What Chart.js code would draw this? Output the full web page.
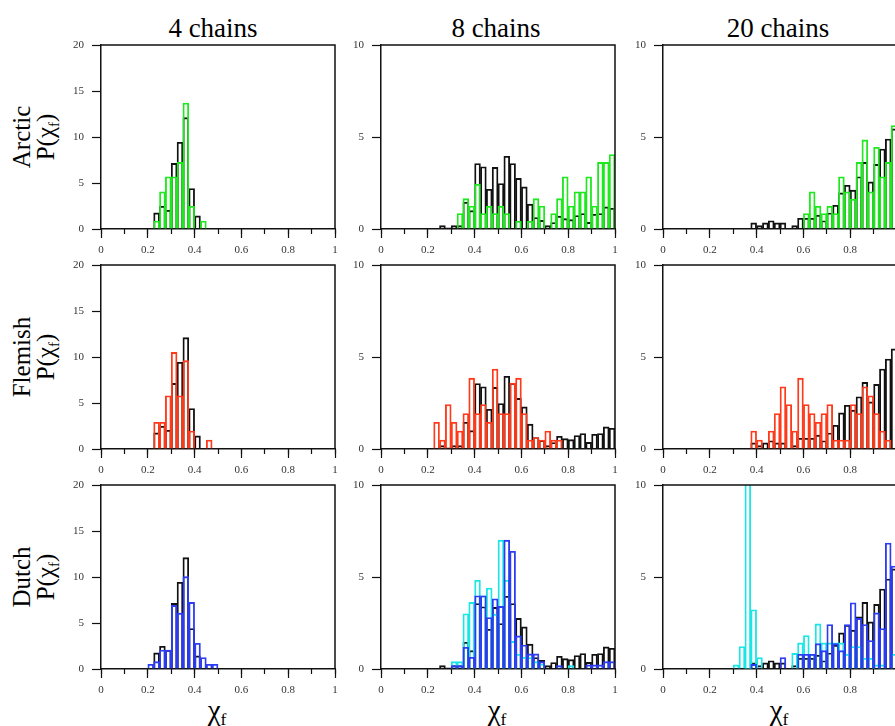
<!DOCTYPE html>
<html><head><meta charset="utf-8">
<script src="https://cdn.jsdelivr.net/npm/chart.js@4.4.0/dist/chart.umd.min.js"></script>
<style>
html,body{margin:0;padding:0;background:#fff;width:895px;height:726px;overflow:hidden;position:relative;font-family:"Liberation Serif","Times New Roman",serif;color:#000}
canvas{position:absolute}
.t{position:absolute;white-space:nowrap;transform:translate(-50%,-50%)}
.col{font-size:27px}
.row{font-size:25px;line-height:24px;text-align:center;transform:translate(-50%,-50%) rotate(-90deg)}
.xl{font-size:29px}
sub{font-size:0.6em;vertical-align:-0.3em;line-height:0}
</style></head><body>
<div class="t col" style="left:213px;top:28px">4 chains</div>
<div class="t col" style="left:496px;top:28px">8 chains</div>
<div class="t col" style="left:778px;top:28px">20 chains</div>
<div class="t row" style="left:34px;top:137px">Arctic<br>P(χ<sub>f</sub>)</div>
<div class="t row" style="left:34px;top:357px">Flemish<br>P(χ<sub>f</sub>)</div>
<div class="t row" style="left:34px;top:577px">Dutch<br>P(χ<sub>f</sub>)</div>
<div class="t xl" style="left:217px;top:710px">χ<sub>f</sub></div>
<div class="t xl" style="left:497px;top:710px">χ<sub>f</sub></div>
<div class="t xl" style="left:779px;top:710px">χ<sub>f</sub></div>
<script>
// ---- categories: 40 histogram bins of width 0.025 on [0,1]
const BIN_WIDTH = 0.025;
const binStarts = Array.from({length: 40}, (_, i) => i * BIN_WIDTH);
const xTickLabels = ['0', '0.2', '0.4', '0.6', '0.8', '1'];
const yTickLabels20 = ['0', '5', '10', '15', '20'];
const yTickLabels10 = ['0', '5', '10'];

// ---- reference (black) histograms, one per column
const ref4 = [0,0,0,0,0,0,0,0,0,1.75, 2.47,2.04,7.13,9.42,12.1,4.4,1.42,0,0,0, 0,0,0,0,0,0,0,0,0,0, 0,0,0,0,0,0,0,0,0,0];
const ref8 = [0,0,0,0,0,0,0,0,0,0, 0.18,0.07,0.18,0.18,1.45,1.0,3.56,3.38,2.16,3.35, 2.47,3.95,3.56,2.75,2.29,1.35,0.62,0.47,0.18,0.35, 0.69,0.56,0.51,0.73,0.84,0.36,0.8,0.84,1.2,1.13];
const ref20 = [0,0,0,0,0,0,0,0,0,0, 0,0,0,0,0,0.33,0.18,0.33,0.45,0.33, 0.33,0,0.18,0.58,0.58,0.58,0.75,0.45,0.87,1.29, 1.96,2.38,2.11,2.84,3.62,2.56,3.51,4.35,4.89,5.44];

// ---- Arctic (green)
const arctic4 = [0,0,0,0,0,0,0,0,0,0.87, 4.04,5.67,5.67,7.24,13.7,2.47,0,0.87,0,0, 0,0,0,0,0,0,0,0,0,0, 0,0,0,0,0,0,0,0,0,0];
const arctic8 = [0,0,0,0,0,0,0,0,0,0, 0,0,0,0.84,1.65,1.25,2.44,0.84,1.24,0.84, 1.24,0.84,0,0.42,0,0.42,1.65,1.25,0,0.84, 1.65,2.84,1.25,2.02,2.02,2.84,1.25,3.62,3.62,4.05];
const arctic20 = [0,0,0,0,0,0,0,0,0,0, 0,0,0,0,0,0,0,0,0,0, 0,0,0,0,0.84,2.02,1.24,0.84,1.24,0.84, 2.84,2.02,1.62,3.62,4.84,2.02,4.44,2.84,3.62,5.62];

// ---- Flemish (red)
const flemish4 = [0,0,0,0,0,0,0,0,0,2.9, 2.9,5.78,10.5,5.78,9.6,1.96,0,0,0.98,0, 0,0,0,0,0,0,0,0,0,0, 0,0,0,0,0,0,0,0,0,0];
const flemish8 = [0,0,0,0,0,0,0,0,0,1.45, 0.49,2.42,1.45,0.98,1.93,3.85,1.93,2.42,1.45,4.35, 1.93,1.93,3.58,3.85,1.93,0.49,0.62,0.49,0.98,0.49, 0.49,0,0,0,0,0,0,0,0,0];
const flemish20 = [0,0,0,0,0,0,0,0,0,0, 0,0,0,0,0,0.98,0.49,0,0.98,1.93, 3.38,2.42,0.98,3.85,2.42,1.93,1.45,1.93,2.42,0.49, 0.49,0.49,2.42,1.93,3.38,2.89,1.93,0.98,0.49,0];

// ---- Dutch (blue, and cyan)
const dutch4 = [0,0,0,0,0,0,0,0,0.51,0.8, 2.07,2.07,6.91,6.07,10.04,7.24,2.8,1.24,0.51,0.51, 0,0,0,0,0,0,0,0,0,0, 0,0,0,0,0,0,0,0,0,0];
const dutch8Cyan = [0,0,0,0,0,0,0,0,0,0, 0,0,0.4,0.4,3.0,3.62,4.82,3.98,4.4,2.98, 7.0,4.82,1.5,0.8,0.64,0.62,0.4,0.27,0,0, 0,0,0.18,0,0,0,0,0,0,0];
const dutch8Blue = [0,0,0,0,0,0,0,0,0,0, 0,0,0.18,0.18,1.18,0.64,3.98,3.98,2.8,3.82, 3.4,7.0,6.4,1.8,1.3,0.82,0.82,0.4,0,0, 0.18,0,0,0,0,0.22,0.22,0.22,0.4,0.4];
const dutch20Cyan = [0,0,0,0,0,0,0,0,0,0, 0,0,0.22,1.22,16,3.22,0.62,0,0,0, 0,0,0.85,1.42,1.82,0.8,2.45,1.42,1.42,1.42, 1.42,0.8,1.22,1.22,0.58,0.58,0.22,0.22,0,0.8];
const dutch20Blue = [0,0,0,0,0,0,0,0,0,0, 0,0,0,0,0,0.25,0,0,0,0, 0.62,0,0,0.8,0.8,0.8,1.38,1.0,2.42,1.38, 1.0,2.42,3.6,2.75,2.42,1.55,3.05,2.2,6.85,5.6];

// ---- styling
const BLACK = '#111111', GREEN = '#1ee81e', RED = '#ff3a1a', BLUE = '#2b3cf2', CYAN = '#1ae6e6';
const COLS = [101, 381, 663];
const ROWS = [45, 265, 485];
const PLOT_W = 234, PLOT_H = 184;
const PAD_L = 60, PAD_T = 20, PAD_R = 12, PAD_B = 30;
const TICK_FONT = {family: '"Liberation Serif","Times New Roman",serif', size: 11};

const panels = [
  {r: 0, c: 0, ymax: 20, series: [[ref4, BLACK], [arctic4, GREEN]]},
  {r: 0, c: 1, ymax: 10, series: [[ref8, BLACK], [arctic8, GREEN]]},
  {r: 0, c: 2, ymax: 10, series: [[ref20, BLACK], [arctic20, GREEN]]},
  {r: 1, c: 0, ymax: 20, series: [[ref4, BLACK], [flemish4, RED]]},
  {r: 1, c: 1, ymax: 10, series: [[ref8, BLACK], [flemish8, RED]]},
  {r: 1, c: 2, ymax: 10, series: [[ref20, BLACK], [flemish20, RED]]},
  {r: 2, c: 0, ymax: 20, series: [[ref4, BLACK], [dutch4, BLUE]]},
  {r: 2, c: 1, ymax: 10, series: [[ref8, BLACK], [dutch8Cyan, CYAN], [dutch8Blue, BLUE]]},
  {r: 2, c: 2, ymax: 10, series: [[ref20, BLACK], [dutch20Cyan, CYAN], [dutch20Blue, BLUE]]},
];

const framePlugin = {
  id: 'frame',
  afterDraw(chart) {
    const {ctx, chartArea: a} = chart;
    ctx.save();
    ctx.strokeStyle = BLACK;
    ctx.lineWidth = 1.5;
    ctx.beginPath();
    ctx.moveTo(a.left, a.top);
    ctx.lineTo(a.right, a.top);
    ctx.lineTo(a.right, a.bottom);
    ctx.stroke();
    ctx.restore();
  }
};

panels.forEach(p => {
  const cv = document.createElement('canvas');
  const W = PAD_L + PLOT_W + PAD_R, H = PAD_T + PLOT_H + PAD_B;
  cv.width = W; cv.height = H;
  cv.style.width = W + 'px'; cv.style.height = H + 'px';
  cv.style.left = (COLS[p.c] - PAD_L) + 'px';
  cv.style.top = (ROWS[p.r] - PAD_T) + 'px';
  document.body.appendChild(cv);
  const yLabels = p.ymax === 20 ? yTickLabels20 : yTickLabels10;
  const n = p.series.length;
  const datasets = p.series.map(([vals, color], k) => ({
    data: binStarts.map((b, i) => ({x: b + BIN_WIDTH / 2, y: vals[i]})),
    backgroundColor: 'rgba(0,0,0,0)',
    borderColor: color,
    borderWidth: 1.2,
    borderSkipped: 'start',
    grouped: false,
    barPercentage: 1,
    categoryPercentage: 1,
    order: n - k
  }));
  new Chart(cv, {
    type: 'bar',
    data: {datasets},
    plugins: [framePlugin],
    options: {
      responsive: false,
      animation: false,
      devicePixelRatio: 1,
      layout: {padding: {left: 0, top: PAD_T, right: PAD_R, bottom: 0}},
      plugins: {legend: {display: false}, tooltip: {enabled: false}},
      scales: {
        x: {
          type: 'linear', position: 'bottom', min: 0, max: 1, offset: false,
          grid: {display: true, drawOnChartArea: false, drawTicks: true, tickLength: 9, tickColor: BLACK, tickWidth: 1.2, offset: false},
          border: {display: true, color: BLACK, width: 1.5},
          ticks: {stepSize: 0.2, autoSkip: false, maxRotation: 0, padding: 6, color: '#333', font: TICK_FONT,
                  callback: (v, i) => xTickLabels[i]},
          afterFit: s => { s.height = PAD_B; }
        },
        xm: {
          axis: 'x', type: 'linear', position: {y: 0}, min: 0, max: 1, offset: false,
          grid: {display: true, drawOnChartArea: false, drawTicks: true, tickLength: 5, tickColor: BLACK, tickWidth: 1.2, offset: false},
          border: {display: false},
          ticks: {stepSize: 0.1, display: false}
        },
        y: {
          type: 'linear', position: 'left', min: 0, max: p.ymax,
          grid: {display: true, drawOnChartArea: false, drawTicks: true, tickLength: 9, tickColor: BLACK, tickWidth: 1.2},
          border: {display: true, color: BLACK, width: 1.5},
          ticks: {stepSize: 5, padding: 8, color: '#333', font: TICK_FONT, callback: (v, i) => yLabels[i]},
          afterFit: s => { s.width = PAD_L; }
        }
      }
    }
  });
});
</script>
</body></html>
